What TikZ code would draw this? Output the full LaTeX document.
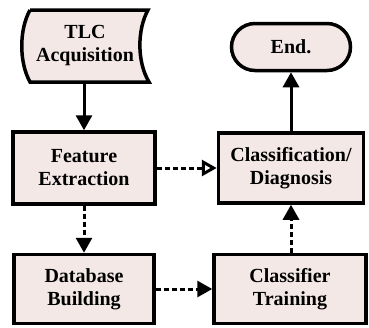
\documentclass[tikz,border=0pt]{standalone}
\usepackage{fontspec}
\setmainfont{Liberation Serif}
\usetikzlibrary{arrows.meta}
\definecolor{boxfill}{RGB}{243,232,230}
\begin{document}
\begin{tikzpicture}[x=1pt,y=-1pt,line width=3pt,
	>={Triangle[length=15pt,width=16pt]},
	font=\fontsize{20}{23}\selectfont\bfseries,
	blk/.style={draw,fill=boxfill,line width=3.5pt,align=center,inner sep=0pt},
	flow/.style={->,dash pattern=on 5pt off 3pt}]
	\useasboundingbox (0,0) rectangle (369,327);
	% stored data shape
	\draw[fill=boxfill,line width=3.5pt] (30,10) -- (148,10)
		.. controls (137,30) and (137,62) .. (149,82) -- (30,82)
		.. controls (19,62) and (19,30) .. (30,10);
	\node[align=center,minimum height=72pt,inner sep=0pt] (tlc) at (85,46) {TLC\\Acquisition};
	\node[blk,minimum width=142pt,minimum height=72pt] (fe) at (84,168) {Feature\\Extraction};
	\node[blk,minimum width=140pt,minimum height=69pt] (db) at (84,289) {Database\\Building};
	\node[blk,minimum width=145pt,minimum height=70pt] (cd) at (291,168) {Classification/\\Diagnosis};
	\node[blk,minimum width=152pt,minimum height=69pt] (ct) at (290,289) {Classifier\\Training};
	\node[blk,minimum width=119pt,minimum height=47pt,rounded corners=23.5pt] (en) at (291,47) {End.};
	\draw[->] (fe.north |- tlc.south) -- (fe.north);
	\draw[flow] (fe) -- (db);
	\draw[flow] (db) -- (ct);
	\draw[flow] (ct.north -| cd.south) -- (cd.south);
	\draw[flow,-{Triangle[open,fill=white,length=15pt,width=16pt]}] (fe) -- (cd);
	\draw[->] (cd) -- (en);
\end{tikzpicture}
\end{document}
